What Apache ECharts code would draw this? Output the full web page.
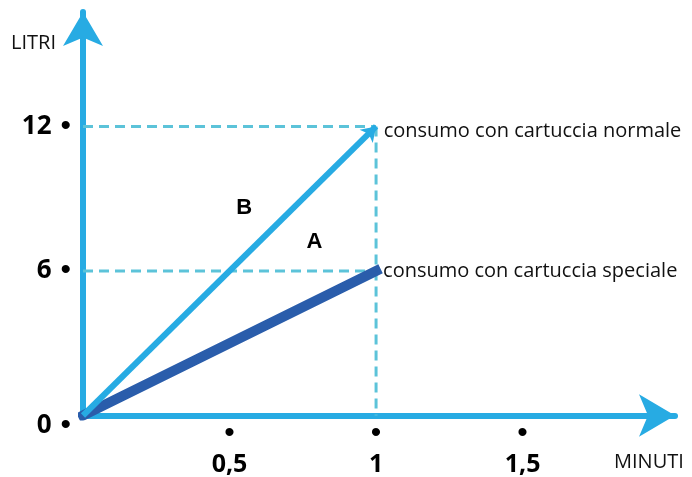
<!DOCTYPE html>
<html>
<head>
<meta charset="utf-8">
<script src="https://cdn.jsdelivr.net/npm/echarts@6/dist/echarts.min.js"></script>
<style>
html, body { margin: 0; padding: 0; background: #fff; }
#chart { width: 692px; height: 477px; }
</style>
</head>
<body>
<div id="chart"></div>
<script>
// valori
let minuti = [0, 1];
let litriNormale = [0, 12];   // retta B
let litriSpeciale = [0, 6];   // retta A
let etichette = ['consumo con cartuccia normale', 'consumo con cartuccia speciale'];
let tickX = [0.5, 1, 1.5];
let tickY = [0, 6, 12];
let lettere = ['B', 'A'];
let posLettere = [[0.55, 8.6], [0.79, 7.2]];

let azzurro = '#27abe3';
let blu = '#2a5dab';
let tratteggio = '#5cc3d9';

function virgola(v) {
    return String(v).replace('.', ',');
}

let chart = echarts.init(document.getElementById('chart'));

function guida(data) {
    return {
        type: 'line',
        data: data,
        symbol: 'none',
        silent: true,
        z: 1,
        lineStyle: { color: tratteggio, width: 3, type: [10, 6] }
    };
}

let stileEtichetta = { position: 'right', color: '#111', fontSize: 20, fontFamily: 'Open Sans' };

option = {
    animation: false,
    backgroundColor: '#fff',
    grid: { left: 83, right: 17, top: 12, bottom: 60 },
    xAxis: {
        type: 'value',
        min: 0,
        max: 2.02,
        interval: 0.5,
        splitLine: { show: false },
        axisTick: { show: false },
        axisLine: {
            lineStyle: { color: azzurro, width: 6 },
            symbol: ['none', 'arrow'],
            symbolSize: [32, 36]
        },
        axisLabel: {
            margin: 8,
            formatter: function (v) {
                if (tickX.indexOf(v) < 0) return '';
                return '{d|•}\n{l|' + virgola(v) + '}';
            },
            rich: {
                d: { fontSize: 30, lineHeight: 20, color: '#000', align: 'center' },
                l: { fontSize: 25, lineHeight: 42, fontWeight: 'bold', color: '#000',
                     fontFamily: 'Open Sans', align: 'center' }
            }
        }
    },
    yAxis: {
        type: 'value',
        min: 0,
        max: 16.75,
        interval: 6,
        splitLine: { show: false },
        axisTick: { show: false },
        axisLine: {
            lineStyle: { color: azzurro, width: 6 },
            symbol: ['none', 'arrow'],
            symbolSize: [30, 34]
        },
        axisLabel: {
            margin: 12,
            formatter: function (v) {
                if (tickY.indexOf(v) < 0) return '';
                if (v === 0) return '{z|0}{zd|•}';
                return '{n|' + v + '}{d|•}';
            },
            rich: {
                n: { fontSize: 26, fontWeight: 'bold', color: '#000', fontFamily: 'Open Sans' },
                d: { fontSize: 30, color: '#000', padding: [0, 0, 0, 9] },
                z: { fontSize: 26, fontWeight: 'bold', color: '#000', fontFamily: 'Open Sans',
                     padding: [20, 0, 0, 0] },
                zd: { fontSize: 30, color: '#000', padding: [20, 0, 0, 9] }
            }
        }
    },
    series: [
        guida([[minuti[0], litriNormale[1]], [minuti[1], litriNormale[1]]]),
        guida([[minuti[0], litriSpeciale[1]], [minuti[1], litriSpeciale[1]]]),
        guida([[minuti[1], litriNormale[1]], [minuti[1], 0]]),
        {
            // retta A
            type: 'line',
            z: 3,
            data: [
                [minuti[0], litriSpeciale[0]],
                { value: [minuti[1], litriSpeciale[1]],
                  label: { show: true, formatter: etichette[1] } }
            ],
            symbol: function (v, p) { return p.dataIndex === 1 ? 'rect' : 'none'; },
            symbolSize: 2,
            showSymbol: true,
            itemStyle: { color: blu },
            lineStyle: { color: blu, width: 10, cap: 'square' },
            label: Object.assign({ distance: 6 }, stileEtichetta)
        },
        {
            // retta B
            type: 'line',
            z: 4,
            data: [
                [minuti[0], litriNormale[0]],
                { value: [minuti[1], litriNormale[1]],
                  label: { show: true, formatter: etichette[0] } }
            ],
            symbol: function (v, p) { return p.dataIndex === 1 ? 'arrow' : 'none'; },
            symbolSize: [14, 14],
            symbolRotate: -45,
            showSymbol: true,
            itemStyle: { color: azzurro },
            lineStyle: { color: azzurro, width: 6 },
            label: Object.assign({ distance: 1 }, stileEtichetta)
        },
        {
            // lettere delle rette
            type: 'scatter',
            z: 5,
            symbolSize: 0,
            silent: true,
            itemStyle: { opacity: 1 },
            data: posLettere.map(function (p, i) {
                return { value: p, name: lettere[i] };
            }),
            label: {
                show: true,
                position: 'inside',
                formatter: '{b}',
                color: '#000',
                fontSize: 22,
                fontWeight: 'bold',
                fontFamily: 'Liberation Sans'
            }
        }
    ],
    graphic: [
        { type: 'text', left: 11, top: 33,
          style: { text: 'LITRI', fontSize: 20, fill: '#111', fontFamily: 'Open Sans' } },
        { type: 'text', left: 614, top: 452,
          style: { text: 'MINUTI', fontSize: 20, fill: '#111', fontFamily: 'Open Sans' } }
    ]
};
chart.setOption(option);
</script>
</body>
</html>
